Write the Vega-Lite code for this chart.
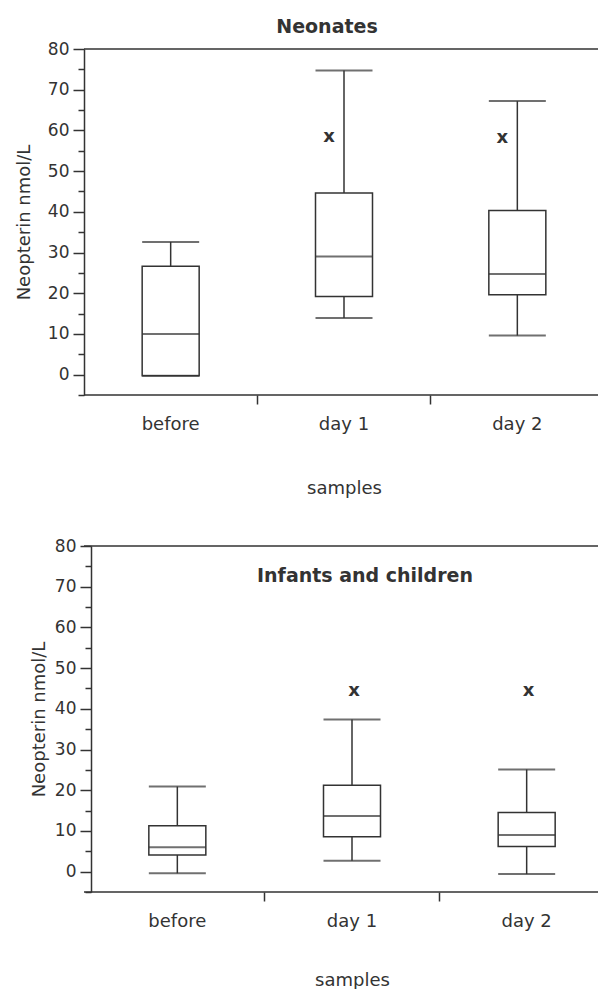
{
  "$schema": "https://vega.github.io/schema/vega-lite/v6.json",
  "padding": {"left": 14, "top": 17, "right": 0, "bottom": 0},
  "spacing": 38,
  "datasets": {
    "neo": [
      {"sample": "before", "lo": -0.3, "q1": -0.3, "med": 10.0, "q3": 26.6, "hi": 32.6},
      {"sample": "day 1", "lo": 13.9, "q1": 19.2, "med": 29.0, "q3": 44.6, "hi": 74.7, "out": 58.4},
      {"sample": "day 2", "lo": 9.6, "q1": 19.6, "med": 24.7, "q3": 40.3, "hi": 67.2, "out": 58.2}
    ],
    "inf": [
      {"sample": "before", "lo": -0.4, "q1": 4.1, "med": 6.0, "q3": 11.3, "hi": 20.9},
      {"sample": "day 1", "lo": 2.7, "q1": 8.6, "med": 13.7, "q3": 21.2, "hi": 37.4, "out": 44.3},
      {"sample": "day 2", "lo": -0.6, "q1": 6.2, "med": 9.0, "q3": 14.5, "hi": 25.1, "out": 44.3}
    ]
  },
  "config": {
    "view": {"stroke": null},
    "axis": {
      "grid": false,
      "labelFont": "DejaVu Sans",
      "titleFont": "DejaVu Sans",
      "labelColor": "#333",
      "titleColor": "#333",
      "titleFontWeight": "normal",
      "titleFontSize": 18,
      "domainColor": "#333",
      "tickColor": "#333",
      "domainWidth": 1.5,
      "tickWidth": 1.5
    },
    "title": {"font": "DejaVu Sans", "fontSize": 19, "fontWeight": "bold", "color": "#333"}
  },
  "vconcat": [
    {
      "data": {"name": "neo"},
      "width": 514,
      "height": 346,
      "view": {"stroke": "#333", "strokeWidth": 1.5, "strokeDash": [514, 346, 514, 346]},
      "title": {"text": "Neonates", "anchor": "middle", "dx": -14, "baseline": "alphabetic", "offset": -12},
      "resolve": {"axis": {"y": "independent"}},
      "encoding": {
        "x": {
          "field": "sample", "type": "nominal", "sort": ["before", "day 1", "day 2"],
          "scale": {"range": [0, 520], "paddingInner": 0, "paddingOuter": 0},
          "axis": {
            "title": "samples", "domain": false, "bandPosition": 0,
            "labelAngle": 0, "labelFontSize": 18, "tickSize": 9, "labelPadding": 11, "titlePadding": 46,
            "tickOpacity": {"condition": {"test": "datum.value === 'before'", "value": 0}, "value": 1}
          }
        }
      },
      "layer": [
        {
          "mark": {"type": "rule", "color": "#333", "strokeWidth": 1.5},
          "encoding": {
            "y": {
              "field": "lo", "type": "quantitative",
              "scale": {"domain": [-5, 80], "nice": false, "zero": false},
              "axis": {
                "orient": "left",
                "title": "Neopterin nmol/L",
                "values": [0, 10, 20, 30, 40, 50, 60, 70, 80],
                "tickSize": 11, "labelPadding": 4, "labelFontSize": 17, "titlePadding": 14,
                "labelFlush": false, "labelOverlap": false, "domain": true
              }
            },
            "y2": {"field": "q1"}
          }
        },
        {
          "mark": {"type": "rule", "color": "#333", "strokeWidth": 1.5},
          "encoding": {
            "y": {
              "field": "q3", "type": "quantitative",
              "scale": {"domain": [-5, 80], "nice": false, "zero": false},
              "axis": {
                "orient": "left", "title": null,
                "values": [-5, 5, 15, 25, 35, 45, 55, 65, 75],
                "tickSize": 6, "labels": false, "domain": false
              }
            },
            "y2": {"field": "hi"}
          }
        },
        {
          "mark": {"type": "bar", "size": 57, "fill": "white", "stroke": "#333", "strokeWidth": 1.5},
          "encoding": {
            "y": {"field": "q1", "type": "quantitative", "scale": {"domain": [-5, 80], "nice": false, "zero": false}, "axis": null},
            "y2": {"field": "q3"}
          }
        },
        {
          "mark": {"type": "tick", "size": 57, "thickness": 2, "color": "#333"},
          "encoding": {
            "y": {"field": "med", "type": "quantitative", "scale": {"domain": [-5, 80], "nice": false, "zero": false}, "axis": null}
          }
        },
        {
          "mark": {"type": "tick", "size": 57, "thickness": 2, "color": "#333"},
          "encoding": {
            "y": {"field": "lo", "type": "quantitative", "scale": {"domain": [-5, 80], "nice": false, "zero": false}, "axis": null}
          }
        },
        {
          "mark": {"type": "tick", "size": 57, "thickness": 2, "color": "#333"},
          "encoding": {
            "y": {"field": "hi", "type": "quantitative", "scale": {"domain": [-5, 80], "nice": false, "zero": false}, "axis": null}
          }
        },
        {
          "transform": [{"filter": "isValid(datum.out)"}],
          "mark": {"type": "text", "text": "x", "font": "DejaVu Sans", "fontWeight": "bold", "fontSize": 18, "color": "#333", "dx": -15, "baseline": "middle"},
          "encoding": {
            "y": {"field": "out", "type": "quantitative", "scale": {"domain": [-5, 80], "nice": false, "zero": false}, "axis": null}
          }
        }
      ]
    },
    {
      "data": {"name": "inf"},
      "width": 514,
      "height": 346,
      "view": {"stroke": "#333", "strokeWidth": 1.5, "strokeDash": [514, 346, 514, 346]},
      "title": {"text": "Infants and children", "anchor": "middle", "dx": 24, "baseline": "alphabetic", "offset": -64},
      "resolve": {"axis": {"y": "independent"}},
      "encoding": {
        "x": {
          "field": "sample", "type": "nominal", "sort": ["before", "day 1", "day 2"],
          "scale": {"range": [6, 530], "paddingInner": 0, "paddingOuter": 0},
          "axis": {
            "title": "samples", "domain": false, "bandPosition": 0,
            "labelAngle": 0, "labelFontSize": 18, "tickSize": 9, "labelPadding": 11, "titlePadding": 41,
            "tickOpacity": {"condition": {"test": "datum.value === 'before'", "value": 0}, "value": 1}
          }
        }
      },
      "layer": [
        {
          "mark": {"type": "rule", "color": "#333", "strokeWidth": 1.5},
          "encoding": {
            "y": {
              "field": "lo", "type": "quantitative",
              "scale": {"domain": [-5, 80], "nice": false, "zero": false},
              "axis": {
                "orient": "left",
                "title": "Neopterin nmol/L",
                "values": [0, 10, 20, 30, 40, 50, 60, 70, 80],
                "tickSize": 11, "labelPadding": 4, "labelFontSize": 17, "titlePadding": 6, "offset": -7,
                "labelFlush": false, "labelOverlap": false, "domain": true
              }
            },
            "y2": {"field": "q1"}
          }
        },
        {
          "mark": {"type": "rule", "color": "#333", "strokeWidth": 1.5},
          "encoding": {
            "y": {
              "field": "q3", "type": "quantitative",
              "scale": {"domain": [-5, 80], "nice": false, "zero": false},
              "axis": {
                "orient": "left", "title": null, "offset": -7,
                "values": [-5, 5, 15, 25, 35, 45, 55, 65, 75],
                "tickSize": 6, "labels": false, "domain": false
              }
            },
            "y2": {"field": "hi"}
          }
        },
        {
          "mark": {"type": "bar", "size": 57, "fill": "white", "stroke": "#333", "strokeWidth": 1.5},
          "encoding": {
            "y": {"field": "q1", "type": "quantitative", "scale": {"domain": [-5, 80], "nice": false, "zero": false}, "axis": null},
            "y2": {"field": "q3"}
          }
        },
        {
          "mark": {"type": "tick", "size": 57, "thickness": 2, "color": "#333"},
          "encoding": {
            "y": {"field": "med", "type": "quantitative", "scale": {"domain": [-5, 80], "nice": false, "zero": false}, "axis": null}
          }
        },
        {
          "mark": {"type": "tick", "size": 57, "thickness": 2, "color": "#333"},
          "encoding": {
            "y": {"field": "lo", "type": "quantitative", "scale": {"domain": [-5, 80], "nice": false, "zero": false}, "axis": null}
          }
        },
        {
          "mark": {"type": "tick", "size": 57, "thickness": 2, "color": "#333"},
          "encoding": {
            "y": {"field": "hi", "type": "quantitative", "scale": {"domain": [-5, 80], "nice": false, "zero": false}, "axis": null}
          }
        },
        {
          "transform": [{"filter": "isValid(datum.out)"}],
          "mark": {"type": "text", "text": "x", "font": "DejaVu Sans", "fontWeight": "bold", "fontSize": 18, "color": "#333", "dx": 2, "baseline": "middle"},
          "encoding": {
            "y": {"field": "out", "type": "quantitative", "scale": {"domain": [-5, 80], "nice": false, "zero": false}, "axis": null}
          }
        }
      ]
    }
  ]
}
